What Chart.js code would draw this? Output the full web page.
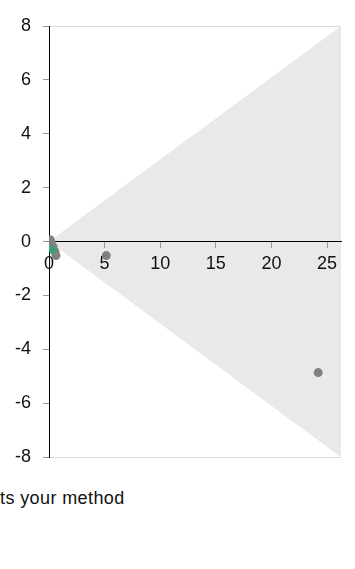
<!DOCTYPE html>
<html lang="en">
<head>
    <meta charset="UTF-8">
    <title>Funnel plot</title>
    <script src="https://cdn.jsdelivr.net/npm/chart.js@4.4.0/dist/chart.umd.min.js"></script>
    <style>
        body { margin: 0; background: #fff; font-family: "Liberation Sans", Arial, sans-serif; }
        #wrap { position: relative; width: 355px; height: 480px; }
        #note { position: absolute; left: 0; top: 488px; font-size: 18px; letter-spacing: 0.4px; color: #111; white-space: nowrap; }
    </style>
</head>
<body>
    <div id="wrap"><canvas id="chart"></canvas></div>
    <div id="note">ts your method</div>

    <script>
        // funnel edges (x, upper y, lower y)
        const funnelX = [0, 26.25];
        const funnelUpper = [0, 8];
        const funnelLower = [0, -8];

        // study points
        const studyX = [0.1, 0.18, 0.36, 0.54, 0.63, 5.15, 24.2];
        const studyY = [0.07, -0.04, -0.19, -0.37, -0.52, -0.52, -4.86];

        // your method
        const methodX = [0.27];
        const methodY = [-0.3];

        const xTicks = [0, 5, 10, 15, 20, 25];
        const yTicks = [-8, -6, -4, -2, 0, 2, 4, 6, 8];

        const pts = (xs, ys) => xs.map((x, i) => ({ x: x, y: ys[i] }));

        const ctx = document.getElementById('chart').getContext('2d');
        Chart.defaults.font.family = '"Liberation Sans", Arial, sans-serif';
        Chart.defaults.font.size = 18;
        Chart.defaults.color = '#111';

        const myChart = new Chart(ctx, {
            type: 'scatter',
            data: {
                datasets: [
                    {
                        data: pts(methodX, methodY),
                        pointStyle: 'rectRot',
                        pointRadius: 5,
                        backgroundColor: '#36a072',
                        borderWidth: 0,
                        order: 0
                    },
                    {
                        data: pts(studyX, studyY),
                        pointRadius: 4.5,
                        backgroundColor: '#808080',
                        borderWidth: 0,
                        order: 1
                    },
                    {
                        data: pts(funnelX, funnelUpper),
                        showLine: true,
                        pointRadius: 0,
                        borderWidth: 0,
                        borderColor: 'rgba(0,0,0,0)',
                        backgroundColor: '#e9e9e9',
                        fill: '+1',
                        order: 2
                    },
                    {
                        data: pts(funnelX, funnelLower),
                        showLine: true,
                        pointRadius: 0,
                        borderWidth: 0,
                        borderColor: 'rgba(0,0,0,0)',
                        fill: false,
                        order: 3
                    }
                ]
            },
            options: {
                responsive: true,
                maintainAspectRatio: false,
                animation: false,
                layout: { padding: { top: 26, bottom: 22, right: 14, left: 0 } },
                plugins: {
                    legend: { display: false },
                    tooltip: { enabled: false },
                    // shade the funnel first so axes and points sit on top
                    filler: { drawTime: 'beforeDraw' }
                },
                scales: {
                    x: {
                        type: 'linear',
                        position: { y: 0 },
                        min: 0,
                        max: funnelX[1],
                        afterBuildTicks: (scale) => {
                            scale.ticks = xTicks.map(v => ({ value: v }));
                        },
                        border: { color: '#000', width: 1 },
                        grid: { drawOnChartArea: false, tickColor: '#999', tickLength: 6 },
                        ticks: { padding: 6, maxRotation: 0, autoSkip: false }
                    },
                    y: {
                        type: 'linear',
                        min: -8,
                        max: 8,
                        afterBuildTicks: (scale) => {
                            scale.ticks = yTicks.map(v => ({ value: v }));
                        },
                        afterFit: (scale) => { scale.width = 49; },
                        border: { color: '#000', width: 1 },
                        grid: {
                            color: (c) => (c.tick && Math.abs(c.tick.value) === 8) ? '#dcdcdc' : 'rgba(0,0,0,0)',
                            tickColor: '#999',
                            tickLength: 6
                        },
                        ticks: { padding: 12 }
                    }
                }
            }
        });
    </script>
</body>
</html>
